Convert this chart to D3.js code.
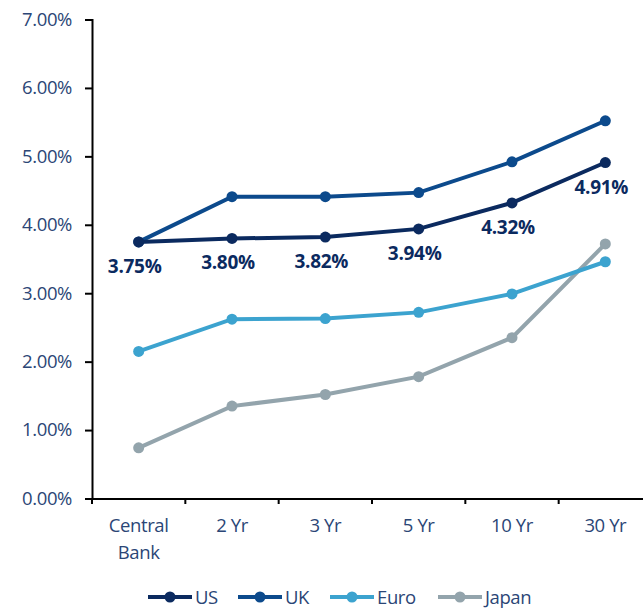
<!DOCTYPE html>
<html>
<head>
<meta charset="utf-8">
<script src="https://cdn.jsdelivr.net/npm/d3@7"></script>
<style>
  body { margin: 0; background: #fff; }
  text { font-family: "Open Sans", sans-serif; }
</style>
</head>
<body>
<svg id="chart" width="643" height="610"></svg>
<script>
// tenors and yields (%)
var tenors = ["Central Bank", "2 Yr", "3 Yr", "5 Yr", "10 Yr", "30 Yr"];
var usYields = [3.75, 3.80, 3.82, 3.94, 4.32, 4.91];
var ukYields = [3.75, 4.41, 4.41, 4.47, 4.92, 5.52];
var euroYields = [2.15, 2.62, 2.63, 2.72, 2.99, 3.46];
var japanYields = [0.74, 1.35, 1.52, 1.78, 2.35, 3.72];
var yTicks = [0, 1, 2, 3, 4, 5, 6, 7];

var series = [
    { name: "US", values: usYields, color: "#0b2a5f" },
    { name: "UK", values: ukYields, color: "#0c4a8c" },
    { name: "Euro", values: euroYields, color: "#3ca3cf" },
    { name: "Japan", values: japanYields, color: "#93a4ac" }
];

var svg = d3.select("#chart");
var labelColor = "#2b4676";

var x = d3.scaleBand().domain(tenors).range([92, 652]);
var y = d3.scaleLinear().domain([0, 7]).range([498.5, 19.5]);

// y axis
var yAxis = svg.append("g")
    .attr("transform", "translate(92,0)")
    .call(d3.axisLeft(y).tickValues(yTicks).tickSize(7).tickPadding(13)
        .tickFormat(function(d) { return d3.format(".2f")(d) + "%"; }));
yAxis.select(".domain").attr("stroke", "#000").attr("stroke-width", 2);
yAxis.selectAll(".tick line").attr("stroke", "#000").attr("stroke-width", 2);
yAxis.selectAll(".tick text")
    .attr("fill", labelColor)
    .style("font-size", "18.5px")
    .style("letter-spacing", "-0.4px");

// x axis
var xAxis = svg.append("g")
    .attr("transform", "translate(0,498.5)")
    .call(d3.axisBottom(x).tickSize(0).tickPadding(0).tickFormat(""));
xAxis.select(".domain").attr("stroke", "#000").attr("stroke-width", 2);
xAxis.selectAll(".tick").remove();

// x ticks at band edges
svg.append("g").selectAll("line")
    .data(tenors)
    .join("line")
    .attr("x1", function(d) { return x(d); })
    .attr("x2", function(d) { return x(d); })
    .attr("y1", 498.5)
    .attr("y2", 504)
    .attr("stroke", "#000")
    .attr("stroke-width", 2);

// x labels, "Central Bank" wraps onto two lines
var xl = svg.append("g").selectAll("text")
    .data(tenors)
    .join("text")
    .attr("x", function(d) { return x(d) + x.bandwidth() / 2; })
    .attr("y", 532)
    .attr("text-anchor", "middle")
    .attr("fill", labelColor)
    .style("font-size", "18.5px")
    .style("letter-spacing", "-0.4px");
xl.each(function(d) {
    if (d.indexOf("Yr") < 0) {
        var t = d3.select(this);
        d.split(" ").forEach(function(w, i) {
            t.append("tspan")
                .attr("x", x(d) + x.bandwidth() / 2)
                .attr("dy", i == 0 ? 0 : 27)
                .text(w);
        });
    } else {
        d3.select(this).text(d);
    }
});

var line = d3.line()
    .x(function(d, i) { return x(tenors[i]) + x.bandwidth() / 2; })
    .y(function(d) { return y(d); });

// draw back to front so US sits on top
series.slice().reverse().forEach(function(s) {
    var g = svg.append("g");
    g.append("path")
        .datum(s.values)
        .attr("d", line)
        .attr("fill", "none")
        .attr("stroke", s.color)
        .attr("stroke-width", 4);
    g.selectAll("circle")
        .data(s.values)
        .join("circle")
        .attr("cx", function(d, i) { return x(tenors[i]) + x.bandwidth() / 2; })
        .attr("cy", function(d) { return y(d); })
        .attr("r", 5.5)
        .attr("fill", s.color);
});

// US data labels
svg.append("g").selectAll("text")
    .data(usYields)
    .join("text")
    .attr("x", function(d, i) { return x(tenors[i]) + x.bandwidth() / 2 - 4; })
    .attr("y", function(d) { return y(d) + 31; })
    .attr("text-anchor", "middle")
    .attr("fill", "#0b2a5f")
    .style("font-size", "19px")
    .style("font-weight", "bold")
    .style("letter-spacing", "-0.3px")
    .text(function(d) { return d.toFixed(2) + "%"; });

// legend
var legendX = [148, 238, 330, 438];
var legend = svg.append("g").selectAll("g")
    .data(series)
    .join("g")
    .attr("transform", function(d, i) { return "translate(" + legendX[i] + ",597)"; });
legend.append("line")
    .attr("x1", 0).attr("x2", 44)
    .attr("stroke", function(d) { return d.color; })
    .attr("stroke-width", 4);
legend.append("circle")
    .attr("cx", 22).attr("r", 5.5)
    .attr("fill", function(d) { return d.color; });
legend.append("text")
    .attr("x", 47)
    .attr("y", 7)
    .attr("fill", labelColor)
    .style("font-size", "18.5px")
    .style("letter-spacing", "-0.4px")
    .text(function(d) { return d.name; });
</script>
</body>
</html>
